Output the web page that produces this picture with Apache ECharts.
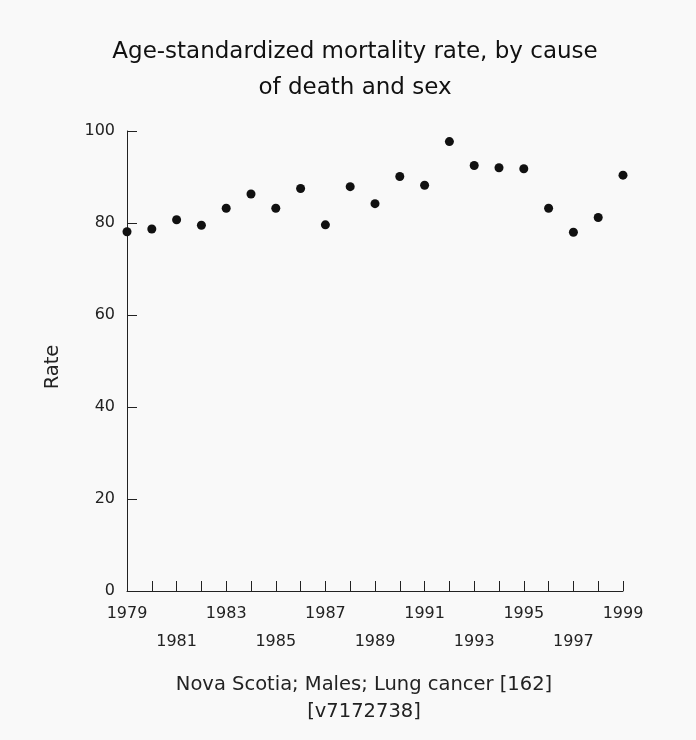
<!DOCTYPE html>
<html>
<head>
<meta charset="utf-8">
<script src="https://cdn.jsdelivr.net/npm/echarts@6/dist/echarts.min.js"></script>
<style>
html,body{margin:0;padding:0;background:#f9f9f9;}
#c{width:696px;height:740px;}
</style>
</head>
<body>
<div id="c"></div>
<script>
const years = [1979,1980,1981,1982,1983,1984,1985,1986,1987,1988,1989,1990,1991,1992,1993,1994,1995,1996,1997,1998,1999];
const rates = [78.1,78.7,80.7,79.5,83.2,86.3,83.2,87.5,79.6,87.9,84.2,90.1,88.2,97.7,92.5,92.0,91.8,83.2,78.0,81.2,90.4];
const yTicks = [0,20,40,60,80,100];
const titleText = 'Age-standardized mortality rate, by cause\nof death and sex';
const footText = 'Nova Scotia; Males; Lung cancer [162]\n[v7172738]';
const yName = 'Rate';

const font = 'DejaVu Sans';
const ink = '#222';
const chart = echarts.init(document.getElementById('c'));
chart.setOption({
  backgroundColor: '#f9f9f9',
  animation: false,
  title: [
    {text: titleText, left: 350, textAlign: 'center', top: 29,
     textStyle: {fontFamily: font, fontSize: 23, fontWeight: 'normal', color: '#111', lineHeight: 36}},
    {text: footText, left: 359, textAlign: 'center', top: 666,
     textStyle: {fontFamily: font, fontSize: 19.5, fontWeight: 'normal', color: ink, lineHeight: 27.5}}
  ],
  graphic: [{
    type: 'text', x: 53, y: 367, rotation: Math.PI / 2,
    style: {text: yName, fontFamily: font, fontSize: 19.5, fill: ink, align: 'center', verticalAlign: 'middle'}
  }],
  grid: {left: 127, right: 73, top: 131, bottom: 149, containLabel: false},
  xAxis: {
    type: 'value', min: years[0], max: years[years.length-1], interval: 1,
    axisLine: {lineStyle: {color: ink, width: 1}},
    axisTick: {inside: true, length: 10, lineStyle: {color: ink}},
    splitLine: {show: false},
    axisLabel: {
      fontFamily: font, fontSize: 16, color: ink, margin: 8.5, lineHeight: 28.5,
      formatter: function (v) {
        const k = v - years[0];
        if (k % 2 !== 0) return '';
        return (k / 2) % 2 === 1 ? '\n' + v : String(v);
      }
    }
  },
  yAxis: {
    type: 'value', min: yTicks[0], max: yTicks[yTicks.length-1], interval: 20,
    axisLine: {show: true, lineStyle: {color: ink, width: 1}},
    axisTick: {show: true, inside: true, length: 10, lineStyle: {color: ink}},
    splitLine: {show: false},
    axisLabel: {fontFamily: font, fontSize: 16, color: ink, margin: 12}
  },
  series: [{
    type: 'scatter',
    data: years.map((y, i) => [y, rates[i]]),
    symbol: 'circle', symbolSize: 9,
    itemStyle: {color: '#111', opacity: 1},
    clip: false
  }]
});
</script>
</body>
</html>
